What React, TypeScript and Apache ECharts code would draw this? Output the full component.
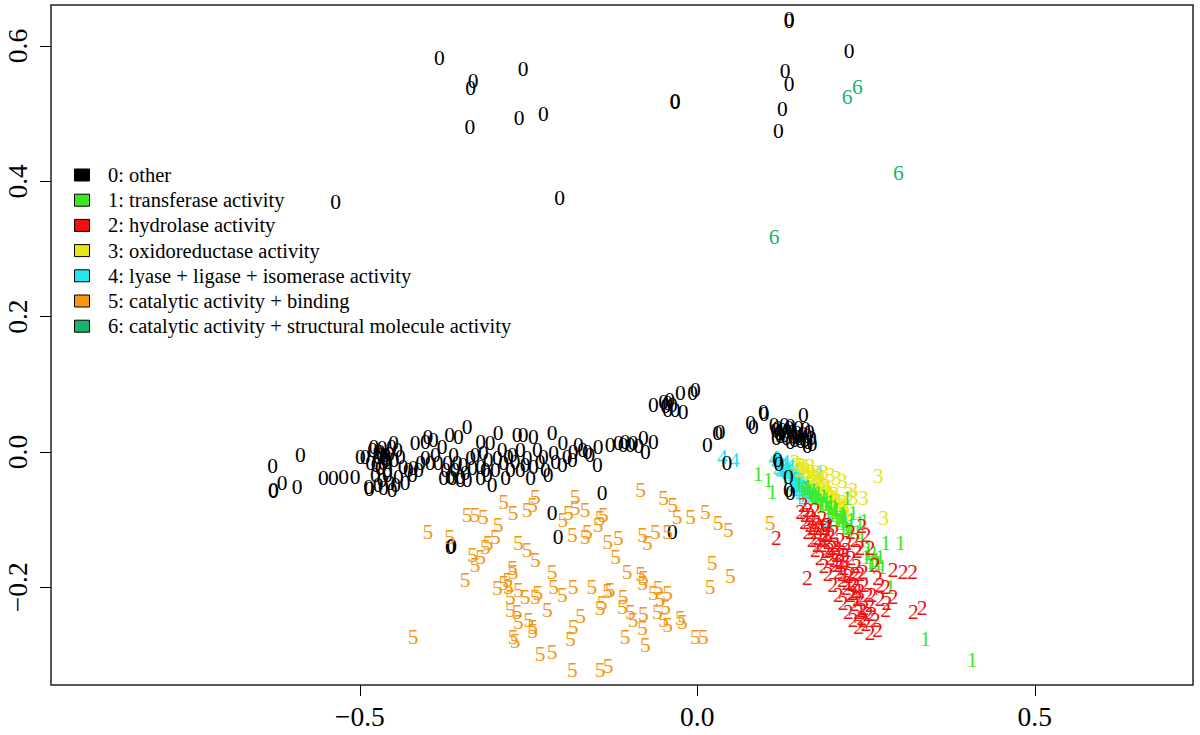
import React, { useEffect, useRef } from "react";
import * as echarts from "echarts";

const FONT = "'Liberation Serif', 'Times New Roman', serif";

const categoryLabels = [
  "0: other",
  "1: transferase activity",
  "2: hydrolase activity",
  "3: oxidoreductase activity",
  "4: lyase + ligase + isomerase activity",
  "5: catalytic activity + binding",
  "6: catalytic activity + structural molecule activity",
];
const categoryDigits = ["0", "1", "2", "3", "4", "5", "6"];
const categoryColors = ["#000000", "#3ce81f", "#f01010", "#e6e619", "#22e5ee", "#f5960f", "#17b56b"];

const xTickValues = [-0.5, 0, 0.5];
const yTickValues = [-0.2, 0, 0.2, 0.4, 0.6];

// 0: other
const points0: [number, number][] = [
  [-0.382, 0.583], [-0.332, 0.549], [-0.336, 0.538], [-0.258, 0.566], [-0.337, 0.481],
  [-0.264, 0.494], [-0.228, 0.499], [-0.536, 0.369], [-0.204, 0.376], [-0.033, 0.517],
  [-0.033, 0.518], [0.136, 0.640], [0.136, 0.637], [0.225, 0.593], [0.130, 0.563],
  [0.136, 0.544], [0.126, 0.507], [0.120, 0.475],
  [-0.629, -0.021], [-0.588, -0.004], [-0.628, -0.056], [-0.628, -0.058], [-0.615, -0.046],
  [-0.593, -0.052], [-0.554, -0.038], [-0.539, -0.038], [-0.524, -0.037], [-0.507, -0.037],
  [-0.499, -0.007], [-0.487, -0.052], [-0.486, -0.055], [-0.481, 0.003], [-0.473, -0.007],
  [-0.467, 0.006], [-0.462, -0.004], [-0.465, -0.016], [-0.459, -0.027], [-0.467, -0.041],
  [-0.465, -0.053], [-0.455, -0.046], [-0.444, 0.003], [-0.450, 0.013], [-0.440, -0.007],
  [-0.436, -0.022], [-0.428, -0.027], [-0.421, -0.024], [-0.447, -0.049], [-0.477, -0.034],
  [-0.484, -0.016], [-0.492, -0.007], [-0.470, 0.000], [-0.461, -0.012], [-0.476, -0.019],
  [-0.456, -0.003], [-0.464, -0.009], [-0.468, -0.004], [-0.459, -0.015],
  [-0.479, 0.007], [-0.473, 0.000], [-0.453, 0.007], [-0.449, -0.012], [-0.470, -0.024],
  [-0.459, -0.034], [-0.473, -0.049], [-0.452, -0.056], [-0.443, -0.037], [-0.433, -0.046],
  [-0.422, -0.034], [-0.413, -0.027], [-0.403, -0.009], [-0.388, -0.004], [-0.373, -0.027],
  [-0.359, -0.027], [-0.344, -0.031], [-0.333, -0.024], [-0.311, -0.034], [-0.299, -0.027],
  [-0.284, -0.038], [-0.274, -0.004], [-0.255, -0.019], [-0.233, -0.015], [-0.221, -0.034],
  [-0.210, -0.015], [-0.185, -0.012], [-0.176, 0.010], [-0.159, -0.004], [-0.129, 0.010],
  [-0.107, 0.015], [-0.087, 0.009], [-0.399, 0.022], [-0.354, 0.022],
  [-0.418, 0.013], [-0.403, 0.015], [-0.391, 0.018], [-0.367, 0.025], [-0.378, 0.007],
  [-0.410, -0.016], [-0.396, -0.016], [-0.384, -0.016], [-0.370, -0.016], [-0.361, -0.004],
  [-0.356, -0.016], [-0.341, 0.037], [-0.376, -0.038], [-0.363, -0.038], [-0.351, -0.037],
  [-0.341, -0.041], [-0.347, -0.019], [-0.336, -0.009], [-0.321, 0.015], [-0.329, -0.004],
  [-0.321, -0.022], [-0.317, -0.001], [-0.310, -0.012], [-0.307, 0.013], [-0.295, 0.028],
  [-0.289, 0.003], [-0.296, -0.009], [-0.304, -0.049], [-0.287, -0.016], [-0.280, -0.007],
  [-0.267, 0.025], [-0.258, 0.025], [-0.243, 0.022], [-0.262, 0.003], [-0.252, -0.009],
  [-0.243, -0.022], [-0.247, -0.038], [-0.237, 0.003], [-0.228, -0.007], [-0.215, 0.028],
  [-0.213, -0.001], [-0.199, 0.013], [-0.193, -0.007], [-0.200, -0.019], [-0.366, -0.037],
  [-0.321, -0.038], [-0.351, -0.041], [-0.277, -0.027], [-0.270, -0.015], [-0.225, -0.027],
  [-0.262, -0.027], [-0.314, -0.027],
  [-0.184, 0.000], [-0.170, 0.003], [-0.163, 0.000], [-0.147, 0.007], [-0.148, -0.019],
  [-0.117, 0.013], [-0.110, 0.010], [-0.099, 0.010], [-0.095, 0.013], [-0.080, 0.021],
  [-0.077, 0.000], [-0.065, 0.015],
  [-0.065, 0.069], [-0.050, 0.074], [-0.044, 0.072], [-0.037, 0.069], [-0.044, 0.062],
  [-0.033, 0.062], [-0.021, 0.059], [-0.025, 0.087], [-0.007, 0.087], [-0.003, 0.091],
  [-0.047, 0.068], [-0.041, 0.077],
  [0.015, 0.010], [0.030, 0.028], [0.034, 0.029], [0.044, -0.016],
  [0.079, 0.043], [0.083, 0.037], [0.098, 0.059], [0.099, 0.056], [0.157, 0.055],
  [0.119, 0.035], [0.126, 0.032], [0.133, 0.031], [0.141, 0.029], [0.148, 0.028],
  [0.156, 0.027], [0.163, 0.024], [0.169, 0.021], [0.123, 0.024], [0.132, 0.021],
  [0.144, 0.018], [0.153, 0.016], [0.116, 0.032], [0.138, 0.038], [0.150, 0.035],
  [0.160, 0.034], [0.129, 0.040], [0.164, 0.015], [0.147, 0.022],
  [0.114, 0.040], [0.121, 0.028], [0.129, 0.025], [0.136, 0.035], [0.142, 0.024],
  [0.151, 0.021], [0.159, 0.018], [0.166, 0.029], [0.170, 0.012], [0.117, 0.021],
  [0.138, 0.015], [0.163, 0.009],
  [0.119, -0.012], [0.121, -0.018], [0.135, -0.037], [0.138, -0.060], [0.135, -0.056],
  [0.190, -0.108],
  [-0.141, -0.060], [-0.215, -0.090], [-0.206, -0.125], [-0.037, -0.119], [-0.366, -0.140],
  [-0.364, -0.139],
];

// 1: transferase activity
const points1: [number, number][] = [
  [0.160, -0.053], [0.167, -0.059], [0.175, -0.065], [0.182, -0.071], [0.190, -0.077],
  [0.197, -0.083], [0.204, -0.088], [0.212, -0.096], [0.219, -0.102], [0.227, -0.109],
  [0.170, -0.068], [0.182, -0.080], [0.194, -0.090], [0.206, -0.100], [0.216, -0.111],
  [0.179, -0.060], [0.191, -0.071], [0.203, -0.081], [0.215, -0.091], [0.224, -0.115],
  [0.164, -0.052], [0.172, -0.056], [0.178, -0.068], [0.185, -0.075], [0.194, -0.081],
  [0.200, -0.093], [0.209, -0.100], [0.215, -0.105], [0.221, -0.112], [0.187, -0.065],
  [0.197, -0.074], [0.206, -0.084], [0.218, -0.094], [0.228, -0.100], [0.151, -0.049],
  [0.156, -0.059], [0.250, -0.155], [0.256, -0.167], [0.262, -0.149], [0.268, -0.164],
  [0.253, -0.142],
  [0.090, -0.032], [0.105, -0.041], [0.111, -0.059], [0.222, -0.068], [0.231, -0.090],
  [0.241, -0.105], [0.247, -0.102], [0.279, -0.134], [0.301, -0.134], [0.253, -0.149],
  [0.259, -0.162], [0.265, -0.159], [0.274, -0.170], [0.271, -0.155], [0.286, -0.199],
  [0.338, -0.277], [0.407, -0.307], [0.244, -0.130], [0.237, -0.119],
];

// 2: hydrolase activity
const points2: [number, number][] = [
  [0.157, -0.078], [0.164, -0.086], [0.160, -0.093], [0.170, -0.097], [0.167, -0.108],
  [0.176, -0.103], [0.175, -0.118], [0.182, -0.112], [0.179, -0.127], [0.188, -0.122],
  [0.185, -0.137], [0.194, -0.133], [0.191, -0.147], [0.200, -0.142], [0.197, -0.156],
  [0.206, -0.152], [0.203, -0.167], [0.212, -0.162], [0.209, -0.177], [0.218, -0.171],
  [0.215, -0.189], [0.224, -0.183], [0.221, -0.201], [0.230, -0.195], [0.227, -0.212],
  [0.236, -0.206], [0.233, -0.224], [0.241, -0.218], [0.239, -0.236], [0.247, -0.230],
  [0.244, -0.245], [0.253, -0.240], [0.250, -0.254], [0.219, -0.159], [0.204, -0.137],
  [0.190, -0.112], [0.227, -0.181], [0.234, -0.196], [0.241, -0.206], [0.212, -0.152],
  [0.197, -0.122], [0.172, -0.112], [0.178, -0.137],
  [0.153, -0.088], [0.159, -0.103], [0.164, -0.118], [0.170, -0.130], [0.175, -0.145],
  [0.182, -0.156], [0.188, -0.168], [0.194, -0.181], [0.201, -0.196], [0.209, -0.211],
  [0.216, -0.223], [0.224, -0.236], [0.231, -0.248], [0.239, -0.258],
  [0.175, -0.086], [0.185, -0.097], [0.194, -0.108], [0.203, -0.118], [0.212, -0.130],
  [0.221, -0.145], [0.228, -0.156], [0.236, -0.168], [0.241, -0.181], [0.247, -0.196],
  [0.253, -0.211], [0.256, -0.226], [0.259, -0.240],
  [0.167, -0.093], [0.179, -0.108], [0.187, -0.130], [0.196, -0.145], [0.203, -0.159],
  [0.209, -0.167], [0.215, -0.181], [0.222, -0.193], [0.230, -0.208], [0.237, -0.218],
  [0.244, -0.233], [0.218, -0.152], [0.207, -0.142], [0.191, -0.121], [0.234, -0.181],
  [0.227, -0.118], [0.234, -0.130], [0.241, -0.142], [0.250, -0.122], [0.246, -0.178],
  [0.267, -0.186], [0.271, -0.218], [0.279, -0.233], [0.264, -0.248],
  [0.117, -0.127], [0.163, -0.186], [0.244, -0.109], [0.222, -0.134], [0.237, -0.147],
  [0.264, -0.167], [0.290, -0.174], [0.305, -0.177], [0.319, -0.177], [0.279, -0.199],
  [0.290, -0.215], [0.281, -0.223], [0.320, -0.236], [0.333, -0.230], [0.267, -0.263],
  [0.256, -0.267], [0.246, -0.248], [0.256, -0.142], [0.271, -0.196], [0.259, -0.211],
];

// 3: oxidoreductase activity
const points3: [number, number][] = [
  [0.148, -0.019], [0.154, -0.025], [0.160, -0.031], [0.166, -0.037], [0.172, -0.043],
  [0.178, -0.049], [0.184, -0.055], [0.190, -0.060], [0.196, -0.066], [0.201, -0.072],
  [0.207, -0.078], [0.213, -0.084], [0.219, -0.090], [0.157, -0.021], [0.167, -0.029],
  [0.179, -0.038], [0.191, -0.050], [0.203, -0.062], [0.215, -0.074], [0.151, -0.027],
  [0.163, -0.041], [0.175, -0.053],
  [0.145, -0.015], [0.153, -0.019], [0.161, -0.027], [0.170, -0.034], [0.176, -0.041],
  [0.182, -0.047], [0.188, -0.053], [0.194, -0.059], [0.200, -0.066], [0.206, -0.071],
  [0.212, -0.078], [0.218, -0.083], [0.167, -0.021], [0.175, -0.029], [0.182, -0.035],
  [0.187, -0.029], [0.197, -0.034], [0.206, -0.038],
  [0.215, -0.043], [0.231, -0.056], [0.246, -0.068], [0.268, -0.035], [0.276, -0.097],
  [0.231, -0.068], [0.224, -0.062],
];

// 4: lyase + ligase + isomerase activity
const points4: [number, number][] = [
  [0.037, -0.007], [0.055, -0.012], [0.113, -0.009], [0.117, -0.015], [0.123, -0.019],
  [0.129, -0.024], [0.133, -0.028], [0.138, -0.032], [0.142, -0.037], [0.147, -0.043],
  [0.151, -0.047], [0.156, -0.053], [0.160, -0.058], [0.164, -0.062], [0.169, -0.068],
  [0.153, -0.038], [0.145, -0.027], [0.138, -0.021], [0.130, -0.015], [0.124, -0.029],
  [0.141, -0.050], [0.160, -0.046], [0.172, -0.056], [0.179, -0.029], [0.194, -0.105],
  [0.120, -0.027], [0.148, -0.059], [0.157, -0.071],
  [0.116, -0.009], [0.120, -0.016], [0.127, -0.019], [0.132, -0.025], [0.136, -0.028],
  [0.141, -0.034], [0.145, -0.038], [0.150, -0.043], [0.154, -0.049], [0.159, -0.053],
  [0.163, -0.058], [0.167, -0.063], [0.135, -0.041], [0.144, -0.053], [0.153, -0.063],
];

// 5: catalytic activity + binding
const points5: [number, number][] = [
  [-0.399, -0.118], [-0.367, -0.125], [-0.341, -0.093], [-0.329, -0.093], [-0.317, -0.096],
  [-0.287, -0.074], [-0.273, -0.090], [-0.252, -0.086], [-0.244, -0.078], [-0.240, -0.066],
  [-0.295, -0.108], [-0.299, -0.125], [-0.310, -0.134], [-0.314, -0.140], [-0.333, -0.152],
  [-0.321, -0.155], [-0.344, -0.189], [-0.329, -0.167], [-0.265, -0.134], [-0.252, -0.145],
  [-0.240, -0.159], [-0.274, -0.171], [-0.273, -0.178], [-0.281, -0.189], [-0.296, -0.201],
  [-0.287, -0.193], [-0.280, -0.199], [-0.265, -0.204], [-0.255, -0.214], [-0.240, -0.214],
  [-0.236, -0.208], [-0.222, -0.233], [-0.277, -0.215], [-0.277, -0.233], [-0.267, -0.237],
  [-0.265, -0.251], [-0.250, -0.248], [-0.244, -0.258], [-0.244, -0.265], [-0.273, -0.273],
  [-0.270, -0.280], [-0.215, -0.178], [-0.213, -0.199], [-0.200, -0.211], [-0.184, -0.199],
  [-0.173, -0.243], [-0.184, -0.258], [-0.188, -0.277], [-0.185, -0.322], [-0.233, -0.299],
  [-0.215, -0.295], [-0.144, -0.322], [-0.132, -0.317], [-0.181, -0.066], [-0.181, -0.083],
  [-0.166, -0.086], [-0.191, -0.090], [-0.199, -0.100], [-0.185, -0.122], [-0.163, -0.119],
  [-0.166, -0.125], [-0.144, -0.097], [-0.147, -0.108], [-0.139, -0.093], [-0.133, -0.133],
  [-0.117, -0.127], [-0.121, -0.155], [-0.104, -0.177], [-0.084, -0.181], [-0.080, -0.186],
  [-0.081, -0.193], [-0.156, -0.199], [-0.141, -0.223], [-0.133, -0.206], [-0.129, -0.204],
  [-0.144, -0.230], [-0.110, -0.215], [-0.111, -0.229], [-0.099, -0.237], [-0.095, -0.248],
  [-0.080, -0.240], [-0.081, -0.260], [-0.107, -0.273], [-0.065, -0.208], [-0.058, -0.201],
  [-0.055, -0.218], [-0.044, -0.208], [-0.047, -0.229], [-0.059, -0.237], [-0.050, -0.248],
  [-0.044, -0.255], [-0.025, -0.245], [-0.022, -0.251], [-0.077, -0.285], [-0.003, -0.274],
  [0.009, -0.273], [-0.084, -0.056], [-0.050, -0.068], [-0.036, -0.078], [-0.030, -0.096],
  [-0.010, -0.096], [0.012, -0.088], [0.031, -0.105], [0.046, -0.115], [-0.081, -0.122],
  [-0.074, -0.134], [-0.062, -0.119], [-0.044, -0.118], [0.022, -0.164], [0.049, -0.184],
  [0.019, -0.199], [-0.421, -0.274], [0.108, -0.105],
];

// 6: catalytic activity + structural molecule activity
const points6: [number, number][] = [
  [0.222, 0.524], [0.237, 0.540], [0.298, 0.413], [0.114, 0.317],
];

const categoryPoints = [points0, points1, points2, points3, points4, points5, points6];
const drawOrder = [4, 0, 5, 6, 3, 1, 2];

const fmt = (v: number) => (v < 0 ? "\u2212" : "") + Math.abs(v).toFixed(1);

export default function App() {
  const ref = useRef<HTMLDivElement>(null);
  useEffect(() => {
    if (!ref.current) return;
    const chart = echarts.init(ref.current, undefined, { renderer: "svg" });

    const series = drawOrder.map((c) => ({
      type: "scatter",
      name: categoryLabels[c],
      data: categoryPoints[c],
      symbol: "circle",
      symbolSize: 1,
      silent: true,
      itemStyle: { color: "rgba(0,0,0,0)", opacity: 1 },
      label: {
        show: true,
        position: "inside",
        formatter: categoryDigits[c],
        color: categoryColors[c],
        fontSize: 21.5,
        fontFamily: FONT,
        opacity: 1,
      },
      emphasis: { disabled: true },
    }));

    const legendTop = 175;
    const legendStep = 25.2;
    const legendGraphics: any[] = [];
    categoryLabels.forEach((lab, i) => {
      const cy = legendTop + i * legendStep;
      legendGraphics.push({
        type: "rect",
        shape: { x: 74.5, y: cy - 6, width: 15, height: 12 },
        style: { fill: categoryColors[i], stroke: "#000", lineWidth: 1 },
        silent: true,
      });
      legendGraphics.push({
        type: "text",
        x: 108,
        y: cy,
        style: {
          text: lab,
          fill: "#000",
          fontSize: 20.5,
          fontFamily: FONT,
          verticalAlign: "middle",
          textAlign: "left",
        },
        silent: true,
      });
    });

    chart.setOption({
      animation: false,
      backgroundColor: "#ffffff",
      grid: {
        left: 51,
        right: 7,
        top: 5,
        bottom: 50,
        show: true,
        borderColor: "#222",
        borderWidth: 1.5,
      },
      xAxis: {
        type: "value",
        min: -0.9575,
        max: 0.7344,
        splitLine: { show: false },
        axisLine: { show: false, onZero: false },
        axisTick: {
          show: true,
          customValues: xTickValues,
          length: 11,
          lineStyle: { color: "#000", width: 1 },
        },
        axisLabel: {
          customValues: xTickValues,
          formatter: fmt,
          fontSize: 27.5,
          fontFamily: FONT,
          color: "#000",
          margin: 17,
        },
      },
      yAxis: {
        type: "value",
        min: -0.3444,
        max: 0.6606,
        splitLine: { show: false },
        axisLine: { show: false, onZero: false },
        axisTick: {
          show: true,
          customValues: yTickValues,
          length: 11,
          lineStyle: { color: "#000", width: 1 },
        },
        axisLabel: {
          customValues: yTickValues,
          formatter: fmt,
          rotate: 90,
          fontSize: 27.5,
          fontFamily: FONT,
          color: "#000",
          margin: 20,
        },
      },
      graphic: legendGraphics,
      series,
    });
    return () => chart.dispose();
  }, []);
  return (
    <div
      ref={ref}
      style={{ position: "fixed", left: 0, top: 0, width: 1200, height: 735, background: "#fff" }}
    />
  );
}
